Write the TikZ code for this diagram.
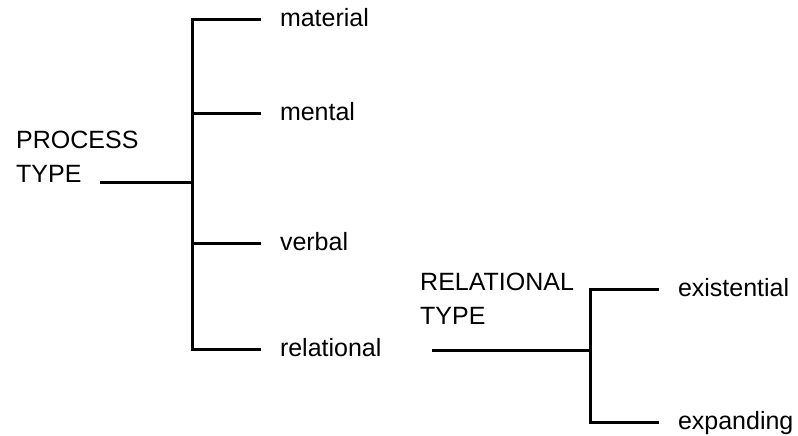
\documentclass[tikz,border=0pt]{standalone}
\usepackage{fontspec}
\setmainfont{Liberation Sans}
\usetikzlibrary{positioning}
\tikzset{
  branch/.style={line width=3pt},
  leaf/.style={anchor=west, inner sep=0pt, outer xsep=19pt, text height=19pt, text depth=5pt, font=\fontsize{25}{33.5}\selectfont},
  head/.style={anchor=north west, align=left, inner sep=0pt, font=\fontsize{25}{33.5}\selectfont},
}
\begin{document}
\begin{tikzpicture}[x=1pt,y=-1pt]
    \useasboundingbox (0,0) rectangle (798,436);

    % process types
    \node[head] (process) at (16,131) {PROCESS\\TYPE};
    \node[leaf] (material) at (261,20) {material};
    \node[leaf] (mental) at (261,113) {mental};
    \node[leaf] (verbal) at (261,243) {verbal};
    \node[leaf] (relational) at (261,349) {relational};
    \coordinate (ptop) at (192,20);
    \coordinate (pbot) at (192,349);
    \coordinate (pin) at (100,182);

    \draw[branch] (material.west) -- (ptop) -- (pbot) -- (relational.west);
    \draw[branch] (ptop |- mental.west) -- (mental.west);
    \draw[branch] (ptop |- verbal.west) -- (verbal.west);
    \draw[branch] (pin) -- (ptop |- pin);

    % relational types
    \node[head] (reltype) at (420,273) {RELATIONAL\\TYPE};
    \node[leaf] (existential) at (659,289) {existential};
    \node[leaf] (expanding) at (659,422) {expanding};
    \coordinate (rtop) at (590,289);
    \coordinate (rbot) at (590,422);
    \coordinate (rin) at (432,350);

    \draw[branch] (existential.west) -- (rtop) -- (rbot) -- (expanding.west);
    \draw[branch] (rin) -- (rtop |- rin);
\end{tikzpicture}
\end{document}
